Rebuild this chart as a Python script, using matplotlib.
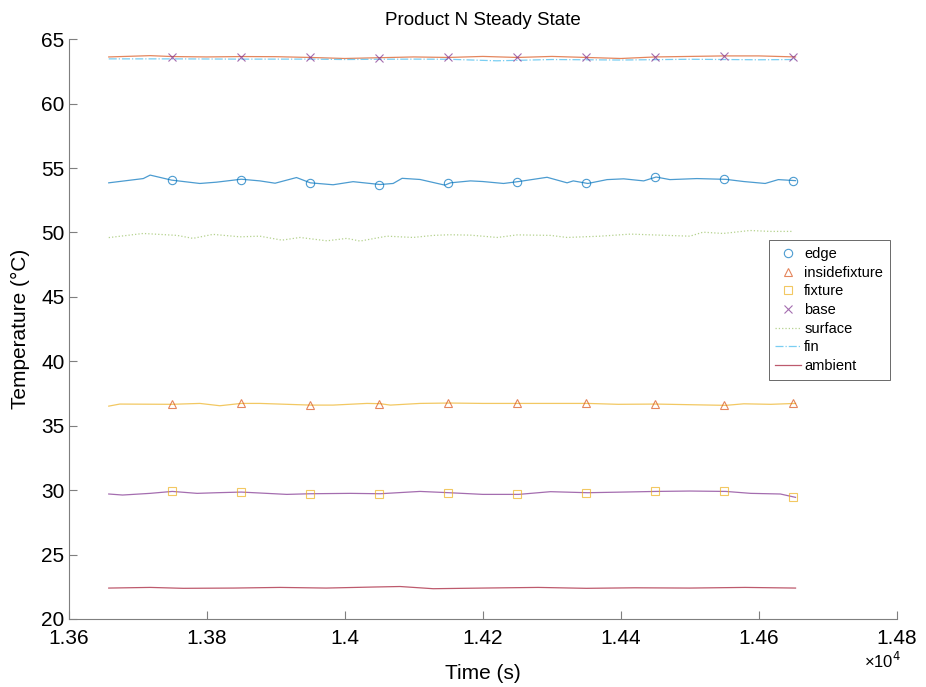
import numpy as np
import matplotlib
matplotlib.use('Agg')
import matplotlib.pyplot as plt
from matplotlib.lines import Line2D
from matplotlib.ticker import FuncFormatter

plt.rcParams['font.family'] = ['Liberation Sans', 'DejaVu Sans']

# MATLAB default colour order
c_blue = (0.000, 0.447, 0.741)
c_orange = (0.850, 0.325, 0.098)
c_yellow = (0.929, 0.694, 0.125)
c_purple = (0.494, 0.184, 0.556)
c_green = (0.466, 0.674, 0.188)
c_cyan = (0.301, 0.745, 0.933)
c_red = (0.635, 0.078, 0.184)

# marker sample times (s)
t_mark = [13750, 13850, 13950, 14050, 14150, 14250, 14350, 14450, 14550, 14650]

# blue line (edge)
t_edge = [13658, 13708, 13718, 13749, 13790, 13814, 13850, 13877, 13899, 13930,
          13950, 13983, 14012, 14051, 14070, 14083, 14109, 14145, 14153, 14182,
          14200, 14230, 14252, 14293, 14322, 14331, 14352, 14380, 14404, 14433,
          14451, 14471, 14510, 14552, 14578, 14609, 14628, 14653]
v_edge = [53.85, 54.18, 54.45, 54.06, 53.80, 53.90, 54.13, 54.00, 53.82, 54.26,
          53.85, 53.70, 53.94, 53.72, 53.80, 54.20, 54.11, 53.67, 53.85, 54.00,
          53.95, 53.80, 53.95, 54.28, 53.85, 54.00, 53.80, 54.10, 54.16, 54.00,
          54.30, 54.10, 54.18, 54.12, 53.95, 53.80, 54.10, 54.02]
m_edge = [54.06, 54.08, 53.83, 53.72, 53.82, 53.92, 53.80, 54.28, 54.12, 54.02]

# orange line (carries the base markers)
t_top = [13658, 13718, 13750, 13800, 13850, 13900, 13950, 14000, 14050, 14100,
         14150, 14200, 14250, 14300, 14350, 14400, 14450, 14500, 14550, 14600,
         14653]
v_top = [63.62, 63.72, 63.65, 63.62, 63.65, 63.64, 63.58, 63.50, 63.56, 63.62,
         63.58, 63.66, 63.58, 63.66, 63.58, 63.50, 63.62, 63.66, 63.70, 63.70,
         63.62]
m_base = [63.65, 63.65, 63.58, 63.56, 63.58, 63.58, 63.58, 63.62, 63.70, 63.62]

# yellow line (carries the insidefixture markers)
t_yel = [13658, 13674, 13749, 13790, 13819, 13850, 13877, 13950, 13983, 14032,
         14051, 14066, 14109, 14151, 14200, 14252, 14300, 14352, 14396, 14451,
         14500, 14552, 14578, 14617, 14653]
v_yel = [36.52, 36.68, 36.66, 36.73, 36.55, 36.73, 36.73, 36.60, 36.60, 36.73,
         36.71, 36.60, 36.73, 36.76, 36.73, 36.73, 36.73, 36.73, 36.66, 36.68,
         36.63, 36.58, 36.70, 36.66, 36.73]
m_inside = [36.66, 36.73, 36.60, 36.71, 36.76, 36.73, 36.73, 36.68, 36.58, 36.73]

# purple line (carries the fixture markers)
t_pur = [13658, 13678, 13718, 13750, 13786, 13815, 13850, 13916, 13950, 14008,
         14051, 14109, 14151, 14200, 14252, 14298, 14352, 14403, 14451, 14500,
         14552, 14588, 14631, 14653]
v_pur = [29.70, 29.62, 29.75, 29.90, 29.75, 29.80, 29.85, 29.67, 29.72, 29.75,
         29.72, 29.90, 29.80, 29.67, 29.67, 29.88, 29.80, 29.85, 29.90, 29.93,
         29.90, 29.75, 29.70, 29.44]
m_fixture = [29.90, 29.85, 29.72, 29.72, 29.80, 29.67, 29.80, 29.90, 29.90, 29.44]

# surface (dotted)
t_surf = [13658, 13708, 13757, 13780, 13809, 13848, 13877, 13909, 13935, 13974,
          14003, 14022, 14061, 14099, 14128, 14152, 14182, 14221, 14250,
          14298, 14322, 14370, 14414, 14467, 14500, 14519, 14548, 14587, 14616,
          14650]
v_surf = [49.60, 49.92, 49.77, 49.54, 49.85, 49.66, 49.71, 49.40, 49.61, 49.35,
          49.54, 49.33, 49.71, 49.61, 49.77, 49.82, 49.79, 49.61, 49.81,
          49.77, 49.61, 49.71, 49.87, 49.77, 49.71, 50.02, 49.92, 50.15, 50.08,
          50.08]

# fin (dash-dot)
t_fin = [13658, 13750, 13850, 13950, 14000, 14050, 14100, 14150, 14220, 14300,
         14400, 14500, 14600, 14653]
v_fin = [63.47, 63.47, 63.45, 63.45, 63.42, 63.44, 63.45, 63.44, 63.32, 63.42,
         63.38, 63.44, 63.40, 63.42]

# ambient
t_amb = [13658, 13718, 13766, 13839, 13906, 13973, 14041, 14080, 14128, 14200,
         14280, 14350, 14420, 14500, 14580, 14653]
v_amb = [22.40, 22.45, 22.38, 22.40, 22.45, 22.40, 22.48, 22.52, 22.35, 22.40,
         22.45, 22.38, 22.42, 22.40, 22.45, 22.40]

fig = plt.figure(figsize=(9.26, 6.87), dpi=100)
ax = fig.add_axes([0.0742, 0.099, 0.8945, 0.844])

lw = 0.9
ax.plot(t_edge, v_edge, color=c_blue, lw=lw, alpha=0.7)
ax.plot(t_top, v_top, color=c_orange, lw=lw, alpha=0.7)
ax.plot(t_yel, v_yel, color=c_yellow, lw=lw, alpha=0.7)
ax.plot(t_pur, v_pur, color=c_purple, lw=lw, alpha=0.7)
ax.plot(t_surf, v_surf, color=c_green, lw=lw, ls=':', alpha=0.55)
ax.plot(t_fin, v_fin, color=c_cyan, lw=lw, ls='-.', alpha=0.75)
ax.plot(t_amb, v_amb, color=c_red, lw=lw, alpha=0.7)

ms = 6
ax.plot(t_mark, m_edge, ls='none', marker='o', ms=ms, mfc='none', mec=c_blue, mew=0.8, alpha=0.7)
ax.plot(t_mark, m_inside, ls='none', marker='^', ms=ms, mfc='none', mec=c_orange, mew=0.8, alpha=0.7)
ax.plot(t_mark, m_fixture, ls='none', marker='s', ms=5.5, mfc='none', mec=c_yellow, mew=0.8, alpha=0.7)
ax.plot(t_mark, m_base, ls='none', marker='x', ms=ms, mec=c_purple, mew=0.8, alpha=0.7)

ax.set_xlim(13600, 14800)
ax.set_ylim(20, 65)
ax.set_xticks(np.arange(13600, 14801, 200))
ax.set_yticks(np.arange(20, 66, 5))
ax.xaxis.set_major_formatter(FuncFormatter(lambda x, p: '%g' % round(x / 1e4, 4)))

for s in ['top', 'right']:
    ax.spines[s].set_visible(False)
for s in ['left', 'bottom']:
    ax.spines[s].set_color('#7f7f7f')
    ax.spines[s].set_linewidth(0.8)
ax.tick_params(direction='in', length=6, width=0.8, color='#7f7f7f',
               labelsize=15, labelcolor='black', pad=3)
ax.tick_params(axis='x', pad=7)

ax.set_xlabel('Time (s)', fontsize=15, labelpad=12)
ax.set_ylabel('Temperature (°C)', fontsize=15, labelpad=8)
ax.set_title('Product N Steady State', fontsize=13.5, pad=10)
fig.text(0.953, 0.027, '×10$^4$', fontsize=12, ha='center', va='baseline')

handles = [
    Line2D([], [], ls='none', marker='o', ms=ms, mfc='none', mec=c_blue, mew=0.8, alpha=0.7),
    Line2D([], [], ls='none', marker='^', ms=ms, mfc='none', mec=c_orange, mew=0.8, alpha=0.7),
    Line2D([], [], ls='none', marker='s', ms=5.5, mfc='none', mec=c_yellow, mew=0.8, alpha=0.7),
    Line2D([], [], ls='none', marker='x', ms=ms, mec=c_purple, mew=0.8, alpha=0.7),
    Line2D([], [], color=c_green, lw=lw, ls=':', alpha=0.55),
    Line2D([], [], color=c_cyan, lw=lw, ls='-.', alpha=0.75),
    Line2D([], [], color=c_red, lw=lw, alpha=0.7),
]
labels = ['edge', 'insidefixture', 'fixture', 'base', 'surface', 'fin', 'ambient']
leg = ax.legend(handles, labels, loc='upper left', bbox_to_anchor=(0.830, 0.650),
                bbox_transform=fig.transFigure, fontsize=10.5, frameon=True,
                fancybox=False, handlelength=1.8, handletextpad=0.2,
                labelspacing=0.32, borderpad=0.45, borderaxespad=0)
leg.get_frame().set_edgecolor('#262626')
leg.get_frame().set_linewidth(0.6)

fig.savefig('out.png', dpi=100)
